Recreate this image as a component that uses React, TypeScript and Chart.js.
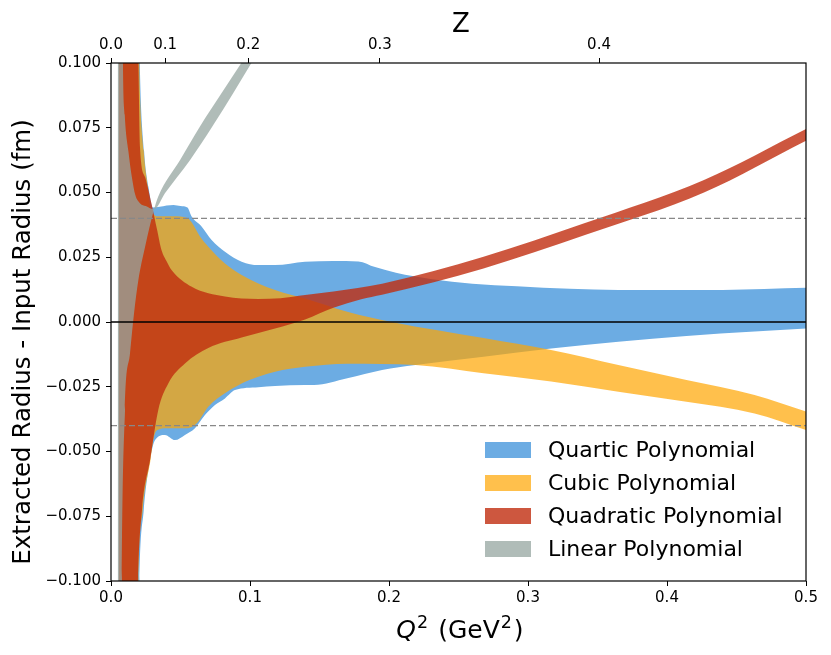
import React, { useEffect, useRef } from "react";
import { Chart, registerables } from "chart.js";

Chart.register(...registerables);

const FONT = "'DejaVu Sans', sans-serif";

// axis ticks
const xTicks = [0, 0.1, 0.2, 0.3, 0.4, 0.5];
const yTicks = [-0.1, -0.075, -0.05, -0.025, 0, 0.025, 0.05, 0.075, 0.1];
const zTicks = [0, 0.1, 0.2, 0.3, 0.4];
const T_CUT = 0.079; // GeV^2, conformal map used for the top axis

// horizontal reference lines
const zeroLine = 0;
const limitLines = [0.04, -0.04];

// legend
const bandNames = ["Quartic Polynomial", "Cubic Polynomial", "Quadratic Polynomial", "Linear Polynomial"];
const bandColors = ["rgb(108,172,227)", "rgba(255,165,0,0.7)", "rgba(192,45,15,0.8)", "rgba(150,166,160,0.75)"];

// band edges, [Q^2, extracted - input radius]
const quarticUpper = [
  [0.0055, 0.6], [0.015, 0.3], [0.0207, 0.1], [0.0238, 0.066], [0.027, 0.052], [0.03, 0.0442],
  [0.035, 0.0445], [0.04, 0.045], [0.045, 0.0452], [0.05, 0.0448], [0.055, 0.0442], [0.058, 0.0407],
  [0.0653, 0.0368], [0.0724, 0.0317], [0.082, 0.0271], [0.094, 0.0233], [0.106, 0.022], [0.118, 0.022],
  [0.1396, 0.0233], [0.16, 0.0236], [0.178, 0.0234], [0.19, 0.0212], [0.205, 0.019], [0.231, 0.0165],
  [0.26, 0.0148], [0.292, 0.0138], [0.33, 0.0128], [0.365, 0.0124], [0.44, 0.0124], [0.5, 0.0132],
];
const quarticLower = [
  [0.0055, -0.6], [0.015, -0.3], [0.0205, -0.1], [0.0235, -0.073], [0.0281, -0.0533], [0.0317, -0.0456],
  [0.0388, -0.0436], [0.046, -0.0456], [0.0532, -0.0436], [0.0604, -0.041], [0.0676, -0.0359],
  [0.0748, -0.032], [0.082, -0.0295], [0.0892, -0.0263], [0.106, -0.0252], [0.118, -0.0247],
  [0.1396, -0.0243], [0.146, -0.0243], [0.17, -0.0217], [0.195, -0.0185], [0.219, -0.0166],
  [0.268, -0.0134], [0.3166, -0.0102], [0.365, -0.0076], [0.414, -0.0054], [0.463, -0.0037], [0.5, -0.0025],
];
const cubicUpper = [
  [0.0055, 0.6], [0.015, 0.3], [0.0203, 0.1], [0.0235, 0.0664], [0.0265, 0.052], [0.029, 0.043],
  [0.035, 0.0408], [0.045, 0.0408], [0.055, 0.0402], [0.058, 0.0385], [0.064, 0.033], [0.07, 0.0291],
  [0.082, 0.0226], [0.094, 0.0181], [0.106, 0.0149], [0.118, 0.0124], [0.13, 0.0104], [0.14, 0.009],
  [0.17, 0.004], [0.202, 0.0], [0.268, -0.0062], [0.3166, -0.0108], [0.365, -0.0166], [0.414, -0.0224],
  [0.463, -0.0282], [0.5, -0.0346],
];
const cubicLower = [
  [0.0055, -0.6], [0.015, -0.3], [0.0198, -0.1], [0.0228, -0.0726], [0.0285, -0.053], [0.0304, -0.0456],
  [0.033, -0.0418], [0.04, -0.041], [0.055, -0.041], [0.0617, -0.0391], [0.07, -0.0327], [0.082, -0.0275],
  [0.094, -0.0237], [0.106, -0.0211], [0.118, -0.0192], [0.1396, -0.0173], [0.17, -0.0161], [0.219, -0.0166],
  [0.268, -0.0198], [0.3166, -0.023], [0.365, -0.0269], [0.414, -0.0308], [0.463, -0.0353], [0.5, -0.0417],
];
const quadraticUpper = [
  [0.0055, 0.6], [0.012, 0.3], [0.0197, 0.1], [0.0208, 0.068], [0.0245, 0.056], [0.029, 0.046],
  [0.033, 0.036], [0.0365, 0.0275], [0.04, 0.0235], [0.0437, 0.02], [0.0581, 0.0136], [0.082, 0.0098],
  [0.1058, 0.0089], [0.122, 0.0092], [0.1396, 0.0104], [0.16, 0.0118], [0.195, 0.0148], [0.268, 0.0252],
  [0.341, 0.0382], [0.4266, 0.0548], [0.5, 0.0745],
];
const quadraticLower = [
  [0.0055, -0.6], [0.012, -0.3], [0.0194, -0.1], [0.0223, -0.0726], [0.0281, -0.0533], [0.034, -0.034],
  [0.0412, -0.0237], [0.0532, -0.016], [0.07, -0.01], [0.094, -0.006], [0.118, -0.0025], [0.1396, 0.001],
  [0.16, 0.0055], [0.18, 0.0088], [0.195, 0.0105], [0.268, 0.0207], [0.341, 0.0336], [0.4266, 0.05], [0.5, 0.07],
];
// the linear band edges cross near Q^2 = 0.031
const linearEdgeA = [
  [0.0048, -0.6], [0.0065, -0.25], [0.0079, -0.1], [0.0101, -0.034], [0.0137, -0.012], [0.0165, 0.003],
  [0.0197, 0.0162], [0.0245, 0.029], [0.031, 0.0435], [0.034, 0.0485], [0.0496, 0.0625], [0.064, 0.0755],
  [0.0796, 0.0884], [0.0952, 0.1012], [0.12, 0.122],
];
const linearEdgeB = [
  [0.0048, 0.6], [0.0065, 0.25], [0.0086, 0.1], [0.0099, 0.08], [0.0125, 0.066], [0.015, 0.056],
  [0.0175, 0.049], [0.021, 0.0458], [0.025, 0.0448], [0.031, 0.0435], [0.0388, 0.0497], [0.0568, 0.0625],
  [0.0729, 0.0755], [0.088, 0.0884], [0.1024, 0.1012], [0.12, 0.116],
];

const toPoints = (arr: number[][]) => arr.map(([x, y]) => ({ x, y }));
const zToQ2 = (z: number) => (T_CUT * 4 * z) / ((1 - z) * (1 - z));
const fmtY = (v: number) => (v < -1e-9 ? "\u2212" : "") + Math.abs(v).toFixed(3);

const edge = (data: number[][], color: string, fill: string | boolean) => ({
  data: toPoints(data),
  xAxisID: "x",
  yAxisID: "y",
  borderWidth: 0,
  pointRadius: 0,
  backgroundColor: color,
  borderColor: "rgba(0,0,0,0)",
  fill,
  cubicInterpolationMode: "monotone" as const,
});

const hLine = (y: number, color: string, width: number, dash: number[]) => ({
  data: [{ x: 0, y }, { x: 0.5, y }],
  xAxisID: "x",
  yAxisID: "y",
  borderColor: color,
  borderWidth: width,
  borderDash: dash,
  pointRadius: 0,
  fill: false,
});

const decorations = {
  id: "decorations",
  afterDraw(chart: Chart) {
    const { ctx, chartArea: a } = chart;
    ctx.save();
    ctx.strokeStyle = "#000";
    ctx.lineWidth = 1.2;
    ctx.strokeRect(a.left, a.top, a.right - a.left, a.bottom - a.top);

    ctx.fillStyle = "#000";
    // top axis title
    ctx.font = `26px ${FONT}`;
    ctx.textAlign = "center";
    ctx.textBaseline = "alphabetic";
    ctx.fillText("Z", 461, 31.5);

    // y title
    ctx.save();
    ctx.translate(29.5, 342);
    ctx.rotate(-Math.PI / 2);
    ctx.font = `24.5px ${FONT}`;
    ctx.fillText("Extracted Radius - Input Radius (fm)", 0, 0);
    ctx.restore();

    // x title: Q^2 (GeV^2)
    const parts = [
      { t: "Q", f: `italic 25px ${FONT}`, dy: 0, gap: 1 },
      { t: "2", f: `17.5px ${FONT}`, dy: -10, gap: 2 },
      { t: " (GeV", f: `25px ${FONT}`, dy: 0, gap: 1 },
      { t: "2", f: `17.5px ${FONT}`, dy: -10, gap: 2 },
      { t: ")", f: `25px ${FONT}`, dy: 0, gap: 0 },
    ];
    let total = 0;
    const widths = parts.map((p) => {
      ctx.font = p.f;
      const w = ctx.measureText(p.t).width + p.gap;
      total += w;
      return w;
    });
    let px = 460 - total / 2;
    ctx.textAlign = "left";
    parts.forEach((p, i) => {
      ctx.font = p.f;
      ctx.fillText(p.t, px, 638 + p.dy);
      px += widths[i];
    });

    // legend, bottom right inside the axes
    ctx.font = `22px ${FONT}`;
    ctx.textBaseline = "middle";
    bandNames.forEach((name, i) => {
      const cy = a.bottom - 131 + i * 33;
      ctx.fillStyle = bandColors[i];
      ctx.fillRect(a.right - 321, cy - 8, 46, 16);
      ctx.fillStyle = "#000";
      ctx.fillText(name, a.right - 258, cy + 1);
    });
    ctx.restore();
  },
};

export default function App() {
  const canvasRef = useRef<HTMLCanvasElement | null>(null);

  useEffect(() => {
    let chart: Chart | null = null;
    if (canvasRef.current) {
      Chart.defaults.font.family = FONT;
      Chart.defaults.color = "#000";
      chart = new Chart(canvasRef.current, {
        type: "line",
        data: {
          datasets: [
            hLine(zeroLine, "#000", 1.5, []),
            hLine(limitLines[0], "#888", 1.3, [6, 3]),
            hLine(limitLines[1], "#888", 1.3, [6, 3]),
            edge(linearEdgeA, bandColors[3], "+1"),
            edge(linearEdgeB, bandColors[3], false),
            edge(quadraticUpper, bandColors[2], "+1"),
            edge(quadraticLower, bandColors[2], false),
            edge(cubicUpper, bandColors[1], "+1"),
            edge(cubicLower, bandColors[1], false),
            edge(quarticUpper, bandColors[0], "+1"),
            edge(quarticLower, bandColors[0], false),
          ] as any,
        },
        options: {
          animation: false,
          responsive: true,
          maintainAspectRatio: false,
          layout: { padding: { left: 0, top: 0, right: 25, bottom: 0 } },
          plugins: {
            legend: { display: false },
            tooltip: { enabled: false },
            title: { display: false },
          },
          scales: {
            x: {
              type: "linear",
              position: "bottom",
              min: 0,
              max: 0.5,
              afterBuildTicks: (axis: any) => {
                axis.ticks = xTicks.map((value) => ({ value }));
              },
              afterFit: (axis: any) => {
                axis.height = 74;
              },
              ticks: {
                autoSkip: false,
                maxRotation: 0,
                padding: 3,
                font: { size: 15 },
                callback: (value: any) => Number(value).toFixed(1),
              },
              grid: { drawOnChartArea: false, drawTicks: true, tickLength: 5, color: "#000", lineWidth: 1 },
              border: { display: false },
            },
            x2: {
              type: "linear",
              position: "top",
              min: 0,
              max: 0.5,
              afterBuildTicks: (axis: any) => {
                axis.ticks = zTicks.map((z) => ({ value: zToQ2(z) }));
              },
              afterFit: (axis: any) => {
                axis.height = 63;
              },
              ticks: {
                autoSkip: false,
                maxRotation: 0,
                padding: 4,
                font: { size: 15 },
                callback: (_value: any, index: number) => zTicks[index].toFixed(1),
              },
              grid: { drawOnChartArea: false, drawTicks: true, tickLength: 5, color: "#000", lineWidth: 1 },
              border: { display: false },
            },
            y: {
              type: "linear",
              position: "left",
              min: -0.1,
              max: 0.1,
              afterBuildTicks: (axis: any) => {
                axis.ticks = yTicks.map((value) => ({ value }));
              },
              afterFit: (axis: any) => {
                axis.width = 111;
              },
              ticks: {
                autoSkip: false,
                padding: 5,
                font: { size: 15 },
                callback: (value: any) => fmtY(Number(value)),
              },
              grid: { drawOnChartArea: false, drawTicks: true, tickLength: 5, color: "#000", lineWidth: 1 },
              border: { display: false },
            },
          },
        },
        plugins: [decorations],
      });
    }
    return () => {
      if (chart) {
        chart.destroy();
      }
    };
  }, []);

  return (
    <div style={{ position: "absolute", left: 0, top: 0, width: 831, height: 655, background: "#fff" }}>
      <canvas ref={canvasRef} />
    </div>
  );
}
